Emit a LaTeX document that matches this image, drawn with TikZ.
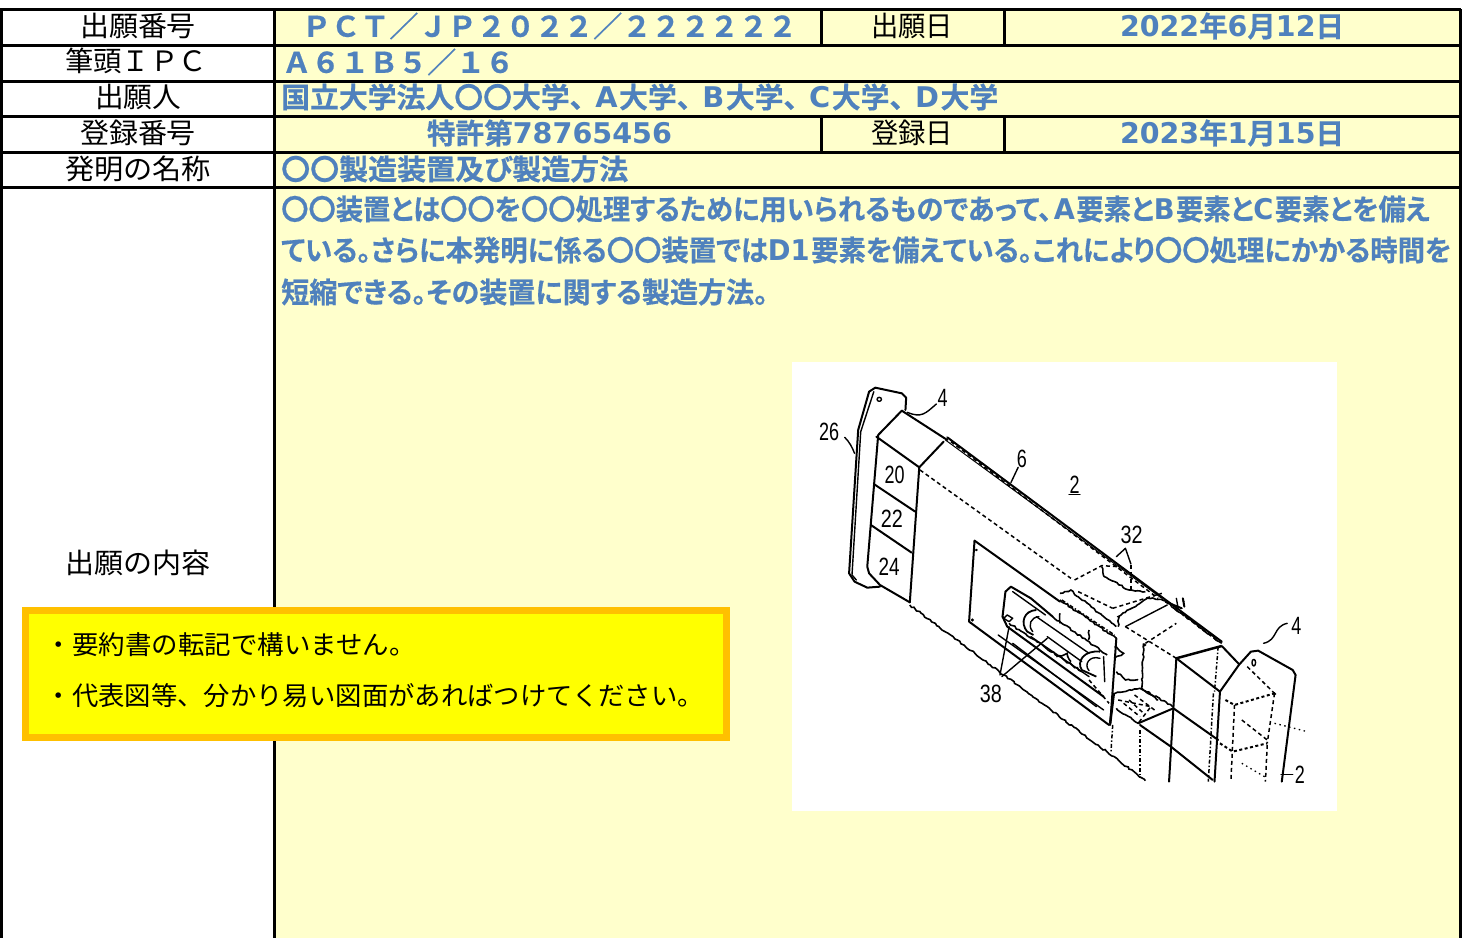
\documentclass[tikz,border=0pt]{standalone}
\usepackage{fontspec}
\usetikzlibrary{decorations.pathmorphing}
\newfontfamily\jpl{Noto Sans CJK JP}
\newfontfamily\jpb[RawFeature=+palt,BoldFont={Noto Sans CJK JP Bold},BoldFeatures={RawFeature=+palt,FakeBold=0.5}]{Noto Sans CJK JP}
\newfontfamily\jpf[BoldFont={Noto Sans CJK JP Bold},BoldFeatures={FakeBold=0.5}]{Noto Sans CJK JP}
\newfontfamily\latb[BoldFont={DejaVu Sans Bold}]{DejaVu Sans}
\newfontfamily\numf{Liberation Sans}
\newcommand{\fitw}[2]{\resizebox{#1pt}{\height}{#2}}
\newcommand{\lat}[1]{{\latb\bfseries #1}\hspace{1.5pt}}
\newcommand{\latn}[1]{{\latb\bfseries #1}}
\definecolor{paleyel}{HTML}{FFFFCC}
\definecolor{pblue}{HTML}{4F81BD}
\definecolor{calloutb}{HTML}{FFC000}
\definecolor{cally}{RGB}{255,255,0}
\tikzset{
 x=1pt,y=-1pt,
 rule/.style={line width=3pt,black},
 lab/.style={inner sep=0pt,font=\fontsize{28}{30}\selectfont\jpl,black},
 val/.style={inner sep=0pt,font=\fontsize{28.5}{30}\selectfont\jpb\bfseries,text=pblue},
 valf/.style={inner sep=0pt,font=\fontsize{28.5}{30}\selectfont\jpf\bfseries,text=pblue},
 valw/.style={val,anchor=west},
 call/.style={inner sep=0pt,anchor=west,font=\fontsize{26}{28}\selectfont\jpl,black},
 num/.style={inner sep=0pt,font=\fontsize{25}{27}\selectfont\numf,black},
 ink/.style={line width=1.4pt,black,line join=round,line cap=round},
 thick ink/.style={line width=2pt,black,line join=round,line cap=round},
 thin ink/.style={line width=1pt,black,line join=round,line cap=round},
 dash ink/.style={line width=1.5pt,black,dash pattern=on 4pt off 3pt},
 dashd ink/.style={line width=1.5pt,black,dash pattern=on 4pt off 2pt on 1.5pt off 2pt},
 dot ink/.style={line width=1.3pt,black,dash pattern=on 1.5pt off 3.5pt},
 jag/.style={line width=1.6pt,black,decorate,decoration={random steps,segment length=2.8pt,amplitude=0.9pt}},
}
\begin{document}
\begin{tikzpicture}
\useasboundingbox (0,0) rectangle (1465,938);
\fill[white] (0,0) rectangle (1465,938);
\fill[paleyel] (275,9) rectangle (1460,938);
% picture panel
\fill[white] (792,362) rectangle (1337,811);
% table rules
\foreach \yy in {9,45,81,116,152,187} \draw[rule] (0,\yy) -- (1461,\yy);
\draw[rule] (1,9) -- (1,938);
\draw[rule] (274,9) -- (274,938);
\draw[rule] (1460,9) -- (1460,938);
\draw[rule] (821,9) -- (821,45);
\draw[rule] (1004,9) -- (1004,45);
\draw[rule] (821,116) -- (821,152);
\draw[rule] (1004,116) -- (1004,152);
% left labels
\node[lab] (l1) at (138,26) {\fitw{116}{出願番号}};
\node[lab] (l2) at (136,61) {\fitw{142}{筆頭ＩＰＣ}};
\node[lab] (l3) at (138,97) {\fitw{86}{出願人}};
\node[lab] (l4) at (138,133) {\fitw{116}{登録番号}};
\node[lab] (l5) at (138,169) {\fitw{146}{発明の名称}};
\node[lab] (l6) at (138,563) {\fitw{145}{出願の内容}};
\node[lab] (d1) at (912,26) {\fitw{82}{出願日}};
\node[lab] (d2) at (912,133) {\fitw{82}{登録日}};
% values
\node[valf] (v1) at (549.5,26) {\fitw{495}{ＰＣＴ／ＪＰ２０２２／２２２２２２}};
\node[val] (v2) at (1232,26) {\fitw{224}{\latn{2022}年\latn{6}月\latn{12}日}};
\node[valf,anchor=west] (v3) at (282,62) {\fitw{232}{Ａ６１Ｂ５／１６}};
\node[valw] (v4) at (281,97) {\fitw{717}{国立大学法人〇〇大学、\hspace{11pt}\lat{A}大学、\hspace{11pt}\lat{B}大学、\hspace{11pt}\lat{C}大学、\hspace{11pt}\lat{D}大学}};
\node[val] (v5) at (549.5,133) {\fitw{245}{特許第\latn{78765456}}};
\node[val] (v6) at (1232,133) {\fitw{224}{\latn{2023}年\latn{1}月\latn{15}日}};
\node[valw] (v7) at (281,169) {\fitw{347}{〇〇製造装置及び製造方法}};
\node[valw] (t1) at (281,209) {\fitw{1149}{〇〇装置とは〇〇を〇〇処理するために用いられるものであって、\hspace{2pt}\lat{A}要素と\lat{B}要素と\lat{C}要素とを備え}};
\node[valw] (t2) at (281,250) {\fitw{1170}{ている。さらに本発明に係る〇〇装置では\lat{D1}要素を備えている。これにより〇〇処理にかかる時間を}};
\node[valw] (t3) at (281,292) {\fitw{487}{短縮できる。その装置に関する製造方法。}};
% callout
\draw[draw=calloutb,fill=cally,line width=7pt] (25.5,610.5) rectangle (726.5,737.5);
\node[call] (c1) at (45.6,645) {\fitw{370}{・要約書の転記で構いません。}};
\node[call] (c2) at (45.6,696) {\fitw{658}{・代表図等、分かり易い図面があればつけてください。}};
% patent figure (coordinates on a 2.75 x 3 grid of the panel)
\begin{scope}[shift={(780,360)},x=0.3636pt,y=-0.3333pt]
 % left plate
 \draw[thick ink] (345,150) -- (347,113) -- (335,100) -- (262,83) -- (245,95) -- (215,210) -- (190,640) -- (205,665) -- (240,683) -- (275,680);
 \draw[ink] (258,95) -- (222,215) -- (198,645) -- (210,660);
 \draw[ink] (273,118) circle[radius=6];
 % left box
 \draw[thick ink] (335,152) -- (270,225) -- (240,620) -- (245,640) -- (275,675) -- (357,727);
 \draw[thick ink] (265,230) -- (383,322) -- (357,727);
 \draw[thick ink] (383,322) -- (450,245);
 \draw[thick ink] (335,152) -- (460,240);
 \draw[thick ink] (258,372) -- (372,455);
 \draw[thick ink] (250,495) -- (362,578);
 % top edge
 \draw[thick ink] (460,232) -- (1215,845);
 \draw[thin ink] (455,240) -- (530,300) -- (1050,715);
 \draw[dash ink] (470,245) -- (1040,715);
 % long dashed
 \draw[dash ink] (385,330) -- (800,655);
 % bottom jagged edge
 \draw[jag] (357,735) -- (1005,1262);
 % inner panel
 \draw[thick ink] (535,542) -- (520,785) -- (905,1095);
 \draw[thick ink] (535,542) -- (770,725);
 \draw[jag] (770,720) -- (925,835);
 \draw[thick ink] (925,835) -- (908,1095);
 \draw[line width=2.5pt] (918,1000) -- (908,1090);
 \fill (540,570) circle[radius=4];
 \fill (529,780) circle[radius=5];
 % inner housing
 \draw[thick ink] (612,770) -- (620,695) -- (635,680) -- (690,715) -- (750,770);
 \draw[jag] (750,770) -- (900,885);
 \draw[thick ink] (612,770) -- (625,800) -- (890,1010);
 \draw[ink] (640,695) -- (730,765);
 \draw[ink] (690,830) -- (850,950);
 \draw[ink] (600,825) -- (890,1050);
 \draw[ink] (640,850) -- (870,1040);
 \draw[jag] (630,790) -- (830,935);
 % cylinder rings
 \draw[line width=1.8pt] (705,750) .. controls (670,752) and (660,790) .. (680,815) -- (697,825);
 \draw[ink] (712,770) .. controls (690,772) and (680,795) .. (695,815);
 \draw[ink] (705,770) -- (850,880);
 \draw[ink] (735,830) -- (830,905);
 \draw[line width=1.8pt] (880,875) .. controls (835,870) and (815,905) .. (830,930) -- (870,950);
 \draw[ink] (880,895) .. controls (850,885) and (835,915) .. (850,932);
 \draw[ink] (890,890) -- (893,965);
 \draw[ink] (625,765) -- (640,775) -- (630,785) -- (615,775) -- cycle;
 \draw[jag] (760,890) -- (790,880) -- (800,905);
 \draw[jag] (770,790) -- (770,760);
 \draw[jag] (850,810) -- (848,840);
 % leaders
 \draw[ink] (605,945) -- (630,800);
 \draw[ink] (610,950) -- (735,835);
 \draw[ink] (655,322) -- (635,368);
 \draw[ink] (350,157) .. controls (390,175) and (400,160) .. (430,132);
 \draw[ink] (178,232) .. controls (190,245) and (198,260) .. (205,280);
 \draw[ink] (1330,850) .. controls (1370,840) and (1355,800) .. (1395,790);
 \draw[ink] (1378,1243) -- (1410,1243);
 \draw[ink] (795,403) -- (825,403);
 \draw[ink] (950,565) -- (925,590);
 \draw[ink] (950,565) -- (965,612);
 % hidden section
 \draw[dash ink] (810,660) -- (885,617) -- (930,620);
 \draw[jag] (885,620) -- (892,650) -- (960,690) -- (1005,695);
 \draw[dash ink] (820,695) -- (915,745);
 \draw[jag] (770,700) -- (800,690) -- (820,710) -- (925,800);
 \draw[dashd ink] (775,720) -- (920,825);
 \draw[dash ink] (915,745) -- (1050,700);
 \draw[dash ink] (965,615) -- (965,690);
 \draw[jag] (930,800) -- (930,770) -- (1010,715) -- (1060,720);
 \draw[ink] (950,800) -- (1065,735);
 \draw[dash ink] (950,800) -- (1090,895);
 \draw[dash ink] (1005,850) -- (1090,790);
 \fill (1003,855) circle[radius=5];
 \draw[jag] (1000,850) -- (995,985) -- (1080,1040);
 \draw[jag] (1060,725) -- (1215,850);
 \draw[dash ink] (1085,745) -- (1200,840);
 \draw[thick ink] (1060,725) -- (1105,745);
 \draw[ink] (1090,715) -- (1095,745);
 \fill (1110,725) circle[radius=3];
 \draw[thick ink] (1108,715) -- (1112,740);
 % end block
 \draw[line width=2.5pt] (1090,895) -- (1215,858);
 \draw[thick ink] (1090,895) -- (1210,995) -- (1262,915);
 \draw[thick ink] (1090,895) -- (1070,1265);
 \draw[thick ink] (1210,995) -- (1195,1265);
 \draw[thick ink] (1215,858) -- (1262,912);
 \draw[thick ink] (985,1090) -- (1082,1045) -- (1205,1140);
 \draw[jag] (925,1045) -- (985,1090);
 \draw[thick ink] (990,1095) -- (1075,1160) -- (1190,1260);
 \draw[dashd ink] (915,1095) -- (910,1180);
 \draw[dashd ink] (990,1110) -- (990,1255);
 \draw[dashd ink] (1205,860) -- (1195,995);
 \draw[dashd ink] (1192,1000) -- (1178,1265);
 % clutter of the mechanism
 \draw[jag] (925,935) -- (950,960) -- (985,960);
 \draw[jag] (915,1000) -- (990,985) -- (1040,1020);
 \draw[dash ink] (930,1020) -- (1020,1040) -- (985,1090);
 \draw[dash ink] (945,1030) -- (990,1070);
 \draw[dash ink] (960,1020) -- (1000,1060);
 \draw[dash ink] (975,1005) -- (1030,1050);
 \draw[jag] (920,860) -- (945,880) -- (920,895);
 \draw[dash ink] (850,960) -- (905,1030);
 % right plate
 \draw[thick ink] (1262,915) -- (1295,875) -- (1315,872) -- (1410,930) -- (1418,945) -- (1380,1265);
 \draw[ink] (1303,908) ellipse[x radius=5,y radius=10];
 \draw[dash ink] (1285,920) -- (1360,1000);
 \draw[line width=2pt,dash pattern=on 3pt off 2.5pt] (1225,1020) -- (1250,1035) -- (1360,1000);
 \fill (1360,1002) circle[radius=5];
 \draw[dash ink] (1360,1000) -- (1340,1150);
 \draw[dash ink] (1250,1035) -- (1240,1265);
 \draw[line width=2pt,dash pattern=on 3pt off 2.5pt] (1210,1150) -- (1245,1175) -- (1340,1150);
 \draw[dash ink] (1270,1080) -- (1340,1140);
 \draw[dot ink] (1360,1090) -- (1450,1115);
 \draw[dot ink] (1270,1210) -- (1340,1255);
 \draw[dash ink] (1340,1155) -- (1335,1265);
 % numbers
 \node[num] (n26) at (135,215) {\fitw{20}{26}};
 \node[num] (n4a) at (447,115) {\fitw{10}{4}};
 \node[num] (n20) at (315,345) {\fitw{20}{20}};
 \node[num] (n22) at (308,475) {\fitw{22}{22}};
 \node[num] (n24) at (300,620) {\fitw{21}{24}};
 \node[num] (n6) at (665,297) {\fitw{10}{6}};
 \node[num] (n2a) at (810,373) {\fitw{10}{2}};
 \node[num] (n32) at (967,525) {\fitw{22}{32}};
 \node[num] (n38) at (580,1003) {\fitw{22}{38}};
 \node[num] (n4b) at (1420,797) {\fitw{10}{4}};
 \node[num] (n2b) at (1430,1245) {\fitw{10}{2}};
\end{scope}
\end{tikzpicture}
\end{document}
